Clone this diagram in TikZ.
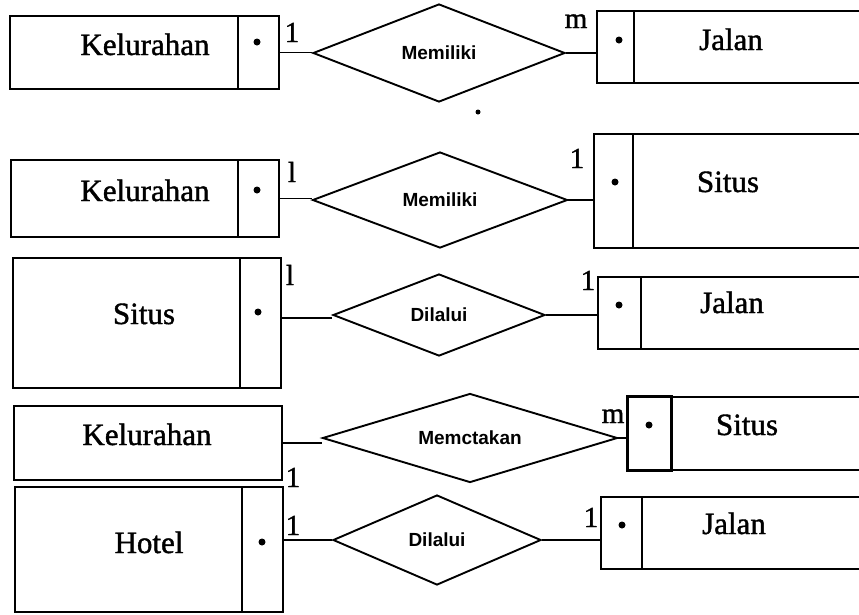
\documentclass[tikz,border=0pt]{standalone}
\usepackage{fontspec}
\setmainfont{Liberation Serif}[BoldFont={Liberation Serif},BoldFeatures={FakeBold=1.3}]
\newfontfamily\relfont{Liberation Sans}
\usetikzlibrary{shapes.geometric,calc}

\begin{document}
\begin{tikzpicture}[x=1pt,y=-1pt,
  ebox/.style={draw, line width=1.7pt, rectangle, inner sep=0pt, anchor=north west},
  divline/.style={line width=1.7pt},
  keydot/.style={circle, fill=black, inner sep=0pt, minimum size=7pt},
  etext/.style={anchor=base, inner sep=0pt, font=\bfseries\fontsize{31}{31}\selectfont},
  card/.style={anchor=base, inner sep=0pt, font=\bfseries\fontsize{29}{29}\selectfont},
  rel/.style={draw, diamond, line width=1.9pt, inner sep=0pt, aspect=2.6,
    font=\relfont\bfseries\fontsize{19}{19}\selectfont},
  conn/.style={line width=1.7pt}
]
\useasboundingbox (0,0) rectangle (859,614);
\clip (0,0) rectangle (859,614);
\fill[white] (0,0) rectangle (859,614);

% ---- Kelurahan 1 -- Memiliki -- m Jalan
\node[ebox, minimum width=269pt, minimum height=73pt] (e1) at (9,15) {};
\draw[divline] ($(e1.north east)+(-42pt,0)$) -- ($(e1.south east)+(-42pt,0)$);
\node[keydot] (e1k) at (257,42) {};
\node[etext] (e1t) at (145,55) {Kelurahan};
\node[rel, minimum width=252pt, minimum height=98pt] (d1) at (439,53) {Memiliki};
\node[ebox, minimum width=279pt, minimum height=72pt] (j1) at (596,10) {};
\draw[divline] ($(j1.north west)+(38pt,0)$) -- ($(j1.south west)+(38pt,0)$);
\node[keydot] (j1k) at (619,40) {};
\node[etext] (j1t) at (731,50) {Jalan};
\draw[conn] (e1.east) -- (e1.east -| d1.west);
\draw[conn] (d1.east) -- (d1.east -| j1.west);
\node[card] (c1a) at (292,42) {1};
\node[card] (c1b) at (576,28) {m};
\node[keydot, minimum size=5pt] (stray) at (478,112) {};

% ---- Kelurahan 1 -- Memiliki -- 1 Situs
\node[ebox, minimum width=268pt, minimum height=77pt] (e2) at (10,159) {};
\draw[divline] ($(e2.north east)+(-42pt,0)$) -- ($(e2.south east)+(-42pt,0)$);
\node[keydot] (e2k) at (257,190) {};
\node[etext] (e2t) at (145,201) {Kelurahan};
\node[rel, minimum width=255pt, minimum height=96pt] (d2) at (440,200) {Memiliki};
\node[ebox, minimum width=282pt, minimum height=114pt] (s2) at (593,133) {};
\draw[divline] ($(s2.north west)+(40pt,0)$) -- ($(s2.south west)+(40pt,0)$);
\node[keydot] (s2k) at (615,182) {};
\node[etext] (s2t) at (728,192) {Situs};
\draw[conn] (e2.east) -- (e2.east -| d2.west);
\draw[conn] (d2.east) -- (d2.east -| s2.west);
\node[card] (c2a) at (292,182) {l};
\node[card] (c2b) at (577,168) {1};

% ---- Situs 1 -- Dilalui -- 1 Jalan
\node[ebox, minimum width=268pt, minimum height=130pt] (e3) at (12,257) {};
\draw[divline] ($(e3.north east)+(-42pt,0)$) -- ($(e3.south east)+(-42pt,0)$);
\node[keydot] (e3k) at (258,312) {};
\node[etext] (e3t) at (144,324) {Situs};
\node[rel, minimum width=212pt, minimum height=82pt] (d3) at (439,315) {Dilalui};
\node[ebox, minimum width=278pt, minimum height=72pt] (j3) at (597,276) {};
\draw[divline] ($(j3.north west)+(44pt,0)$) -- ($(j3.south west)+(44pt,0)$);
\node[keydot] (j3k) at (619,305) {};
\node[etext] (j3t) at (732,313) {Jalan};
\draw[conn] ($(e3.east)+(0,5pt)$) -- ($(e3.east -| d3.west)+(0,5pt)$);
\draw[conn] (d3.east) -- (d3.east -| j3.west);
\node[card] (c3a) at (290,285) {l};
\node[card] (c3b) at (588,290) {1};

% ---- Kelurahan 1 -- Memctakan -- m Situs
\node[ebox, minimum width=268pt, minimum height=74pt] (e4) at (13,405) {};
\node[etext] (e4t) at (147,445) {Kelurahan};
\node[rel, aspect=3.3, minimum width=295pt, minimum height=89pt] (d4) at (470,438) {Memctakan};
\node[ebox, minimum width=248pt, minimum height=73pt] (s4) at (627,396) {};
\draw[line width=3pt] (s4.north west) rectangle ($(s4.south west)+(44pt,0)$);
\node[keydot] (s4k) at (649,425) {};
\node[etext] (s4t) at (747,435) {Situs};
\draw[conn] (e4.east) -- (e4.east -| d4.west);
\draw[conn] (d4.east) -- (d4.east -| s4.west);
\node[card] (c4a) at (293,487) {1};
\node[card] (c4b) at (613,423) {m};

% ---- Hotel 1 -- Dilalui -- 1 Jalan
\node[ebox, minimum width=268pt, minimum height=125pt] (e5) at (14,486) {};
\draw[divline] ($(e5.north east)+(-42pt,0)$) -- ($(e5.south east)+(-42pt,0)$);
\node[keydot] (e5k) at (262,542) {};
\node[etext] (e5t) at (149,553) {Hotel};
\node[rel, aspect=2.3, minimum width=208pt, minimum height=90pt] (d5) at (437,540) {Dilalui};
\node[ebox, minimum width=275pt, minimum height=72pt] (j5) at (600,496) {};
\draw[divline] ($(j5.north west)+(42pt,0)$) -- ($(j5.south west)+(42pt,0)$);
\node[keydot] (j5k) at (622,525) {};
\node[etext] (j5t) at (734,534) {Jalan};
\draw[conn] (d5.west -| e5.east) -- (d5.west);
\draw[conn] (d5.east) -- (d5.east -| j5.west);
\node[card] (c5a) at (293,535) {1};
\node[card] (c5b) at (591,527) {1};
\end{tikzpicture}
\end{document}
